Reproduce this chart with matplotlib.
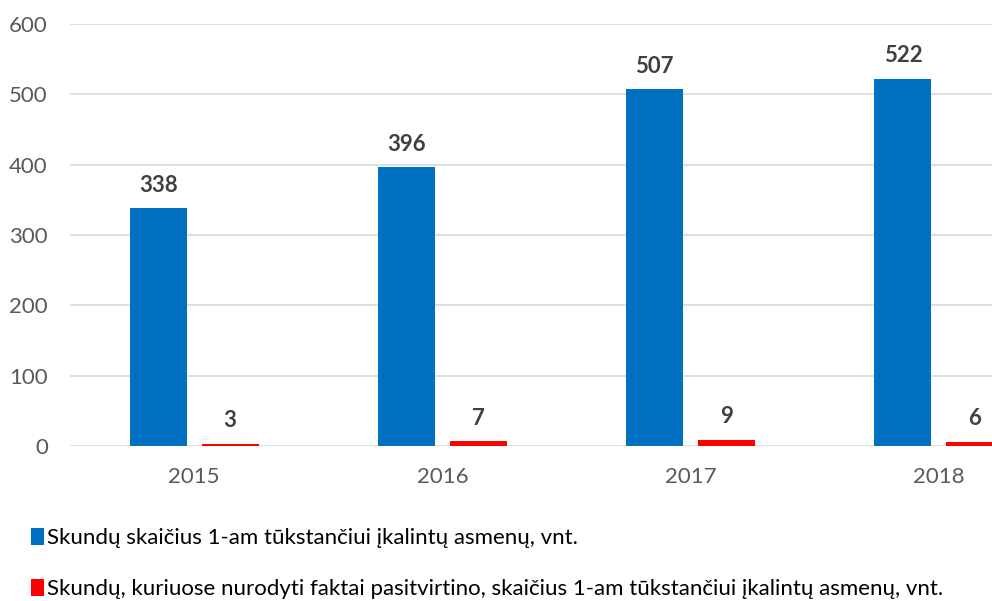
import matplotlib
matplotlib.use("Agg")
import matplotlib.pyplot as plt
import numpy as np

years = ["2015", "2016", "2017", "2018"]
complaints = [338, 396, 507, 522]
confirmed = [3, 7, 9, 6]
labels = [
    "Skundų skaičius 1-am tūkstančiui įkalintų asmenų, vnt.",
    "Skundų, kuriuose nurodyti faktai pasitvirtino, skaičius 1-am tūkstančiui įkalintų asmenų, vnt.",
]

BLUE = "#0070C0"
RED = "#FF0000"

plt.rcParams["font.family"] = ["Lato", "DejaVu Sans"]

fig = plt.figure(figsize=(9.92, 6.01), dpi=100)
ax = fig.add_axes([70 / 992, 155 / 601, 1 - 70 / 992, 422 / 601])

x = np.arange(len(years))
off = 0.145
w = 0.23
b1 = ax.bar(x - off, complaints, w, color=BLUE, label=labels[0], zorder=3)
b2 = ax.bar(x + off, confirmed, w, color=RED, label=labels[1], zorder=3)

for bars in (b1, b2):
    ax.bar_label(bars, padding=9, fontsize=16, fontweight="bold",
                 color="#404040")

ax.set_xlim(-0.5, 3.214)
ax.set_ylim(0, 600)
ax.set_yticks(range(0, 601, 100))
ax.set_xticks(x)
ax.set_xticklabels(years)
ax.grid(axis="y", color="#d9d9d9", linewidth=1.2, zorder=0)
for s in ax.spines.values():
    s.set_visible(False)
ax.tick_params(axis="both", length=0, labelsize=16, labelcolor="#595959")
ax.tick_params(axis="y", pad=16)
ax.tick_params(axis="x", pad=15)

fig.legend(handles=[b1, b2], loc="upper left", bbox_to_anchor=(0.022, 0.137),
           frameon=False, fontsize=16, handlelength=0.6, handleheight=0.8,
           handletextpad=0.15, labelspacing=1.4, borderaxespad=0,
           labelcolor="#000000")

fig.savefig("out.png", dpi=100)
